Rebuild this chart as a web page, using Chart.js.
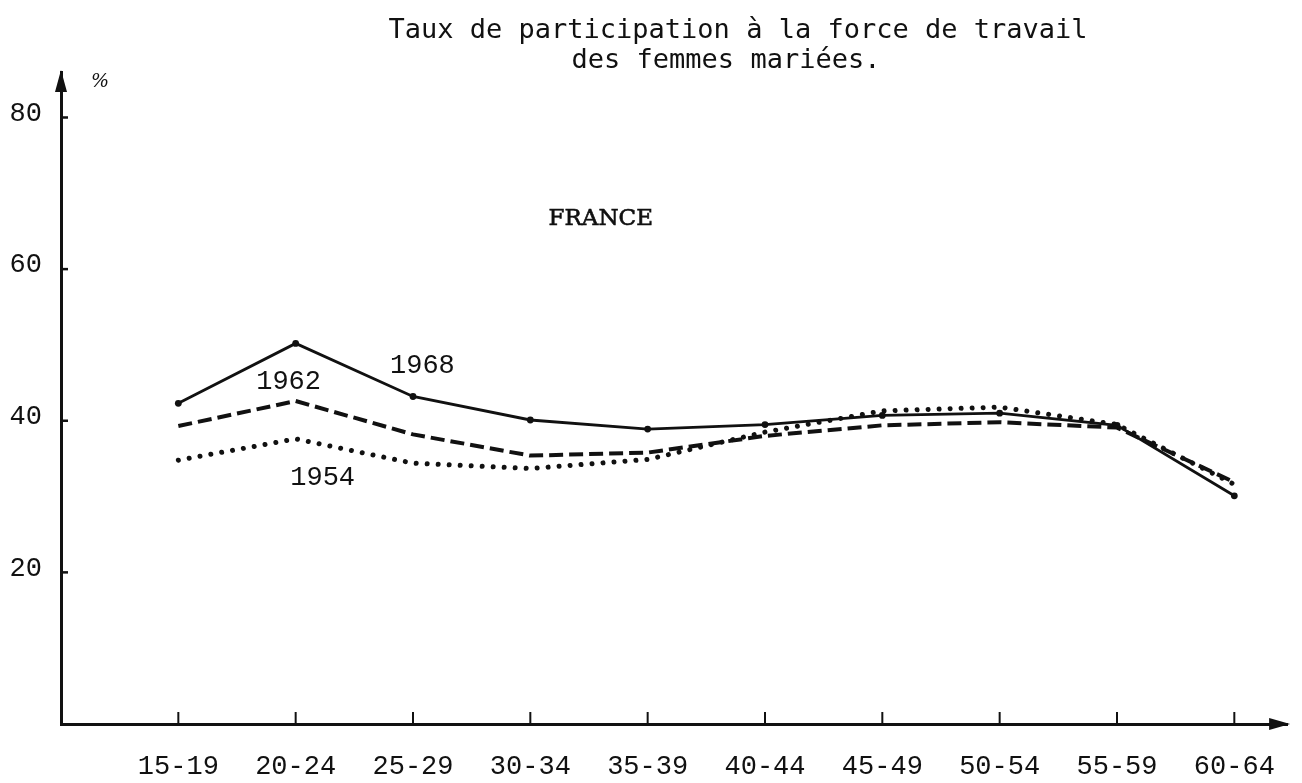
<!DOCTYPE html>
<html>
<head>
<meta charset="utf-8">
<script src="https://cdn.jsdelivr.net/npm/chart.js@4.4.1/dist/chart.umd.min.js"></script>
<style>
  html, body { margin: 0; padding: 0; background: #fff; }
</style>
</head>
<body>
<canvas id="chart" width="1302" height="783"></canvas>
<script>
const ageGroups = ['15-19', '20-24', '25-29', '30-34', '35-39', '40-44', '45-49', '50-54', '55-59', '60-64'];
const rate1968 = [42.3, 50.2, 43.2, 40.1, 38.9, 39.5, 40.7, 41.0, 39.4, 30.1];
const rate1962 = [39.3, 42.6, 38.2, 35.4, 35.8, 38.0, 39.4, 39.8, 39.1, 31.9];
const rate1954 = [34.8, 37.6, 34.4, 33.7, 34.9, 38.5, 41.3, 41.8, 39.5, 31.6];
const yTicks = [20, 40, 60, 80];
const titleLines = ['Taux de participation à la force de travail', 'des femmes mariées.'];

const INK = '#111';
const numFont = { family: "'Liberation Mono', monospace", size: 27 };

const toPoints = (vals) => vals.map((v, i) => ({ x: i, y: v }));

// axes arrows, inner tick marks and the hand lettering
const decor = {
    id: 'decor',
    afterDraw(chart) {
        const { ctx, chartArea: a, scales: { x, y } } = chart;
        ctx.save();
        ctx.fillStyle = INK; ctx.strokeStyle = INK;

        // arrow heads
        ctx.beginPath();
        ctx.moveTo(a.left, a.top - 2); ctx.lineTo(a.left - 6, a.top + 20); ctx.lineTo(a.left + 6, a.top + 20);
        ctx.closePath(); ctx.fill();
        ctx.beginPath();
        ctx.moveTo(a.right + 3, a.bottom); ctx.lineTo(a.right - 18, a.bottom - 6); ctx.lineTo(a.right - 18, a.bottom + 6);
        ctx.closePath(); ctx.fill();

        // tick marks drawn inward
        ctx.lineWidth = 2.5;
        yTicks.forEach(v => {
            const py = y.getPixelForValue(v);
            ctx.beginPath(); ctx.moveTo(a.left, py); ctx.lineTo(a.left + 7, py); ctx.stroke();
        });
        ctx.lineWidth = 2;
        ageGroups.forEach((g, i) => {
            const px = x.getPixelForValue(i);
            ctx.beginPath(); ctx.moveTo(px, a.bottom); ctx.lineTo(px, a.bottom - 12); ctx.stroke();
        });

        // title
        ctx.textAlign = 'center'; ctx.textBaseline = 'alphabetic';
        ctx.font = "27px 'DejaVu Sans Mono', monospace";
        ctx.fillText(titleLines[0], 738, 38);
        ctx.fillText(titleLines[1], 726, 68);

        // series labels
        ctx.font = "27px 'Liberation Mono', monospace";
        ctx.textBaseline = 'middle';
        const note = (t, xv, yv) => ctx.fillText(t, x.getPixelForValue(xv), y.getPixelForValue(yv));
        note('1968', 2.08, 47.3);
        note('1962', 0.94, 45.1);
        note('1954', 1.23, 32.5);

        ctx.font = "23px 'DejaVu Serif', serif";
        ctx.lineWidth = 0.6;
        note('FRANCE', 3.6, 66.6);
        ctx.strokeText('FRANCE', x.getPixelForValue(3.6), y.getPixelForValue(66.6));

        ctx.font = "italic 19px 'DejaVu Serif', serif";
        ctx.fillText('%', a.left + 39, a.top + 10);
        ctx.restore();
    }
};

new Chart(document.getElementById('chart'), {
    type: 'line',
    data: {
        datasets: [
            { label: '1968', data: toPoints(rate1968), borderColor: INK, borderWidth: 2.8,
              pointRadius: 3.4, pointBackgroundColor: INK, pointBorderWidth: 0 },
            { label: '1962', data: toPoints(rate1962), borderColor: INK, borderWidth: 4,
              borderDash: [14, 6], pointRadius: 0 },
            { label: '1954', data: toPoints(rate1954), borderColor: INK, borderWidth: 5,
              borderDash: [0.01, 11], borderCapStyle: 'round', pointRadius: 0 }
        ]
    },
    options: {
        responsive: false,
        animation: false,
        layout: { padding: { top: 72, left: 10, right: 4, bottom: 0 } },
        plugins: { legend: { display: false }, tooltip: { enabled: false }, title: { display: false } },
        elements: { line: { tension: 0, fill: false } },
        scales: {
            x: {
                type: 'linear', min: -1, max: 9.45,
                afterBuildTicks: (s) => { s.ticks = ageGroups.map((g, i) => ({ value: i })); },
                afterFit: (s) => { s.height = 59; },
                grid: { display: false, drawTicks: false },
                border: { display: true, color: INK, width: 3 },
                ticks: { callback: (v) => ageGroups[v], autoSkip: false, maxRotation: 0,
                         font: numFont, color: INK, padding: 27 }
            },
            y: {
                min: 0, max: 86,
                afterBuildTicks: (s) => { s.ticks = yTicks.map(v => ({ value: v })); },
                afterFit: (s) => { s.width = 51; },
                grid: { display: false, drawTicks: false },
                border: { display: true, color: INK, width: 3 },
                ticks: { font: numFont, color: INK, padding: 19, labelOffset: -4 }
            }
        }
    },
    plugins: [decor]
});
</script>
</body>
</html>
